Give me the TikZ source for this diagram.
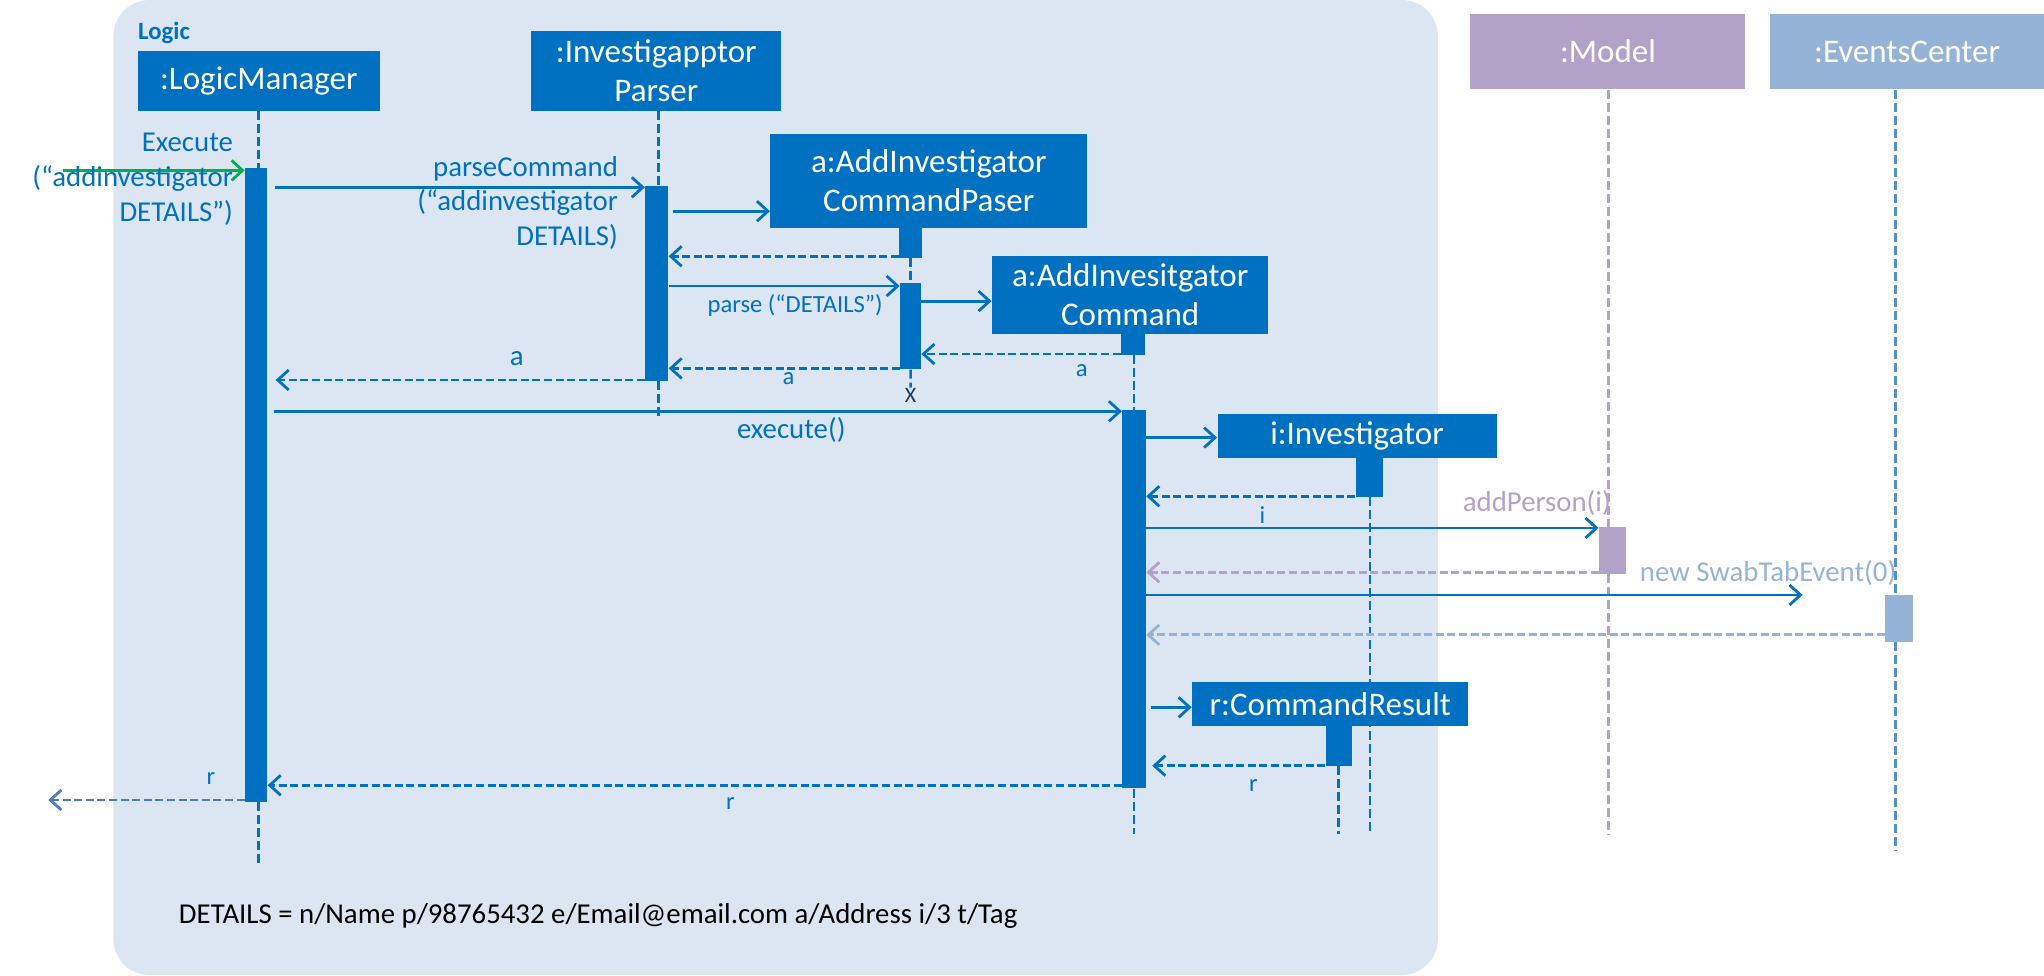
\documentclass[tikz,border=0pt]{standalone}
\usepackage{fontspec}
\setmainfont{Carlito}
\usetikzlibrary{arrows.meta}
\definecolor{mblue}{HTML}{0070C0}
\definecolor{bgblue}{HTML}{DCE6F2}
\definecolor{mpurple}{HTML}{B3A2C7}
\definecolor{lblue}{HTML}{95B3D7}
\definecolor{evline}{HTML}{558ED5}
\definecolor{outblue}{HTML}{4A7EBB}
\definecolor{mgreen}{HTML}{00B050}
\definecolor{navy}{HTML}{1F3864}
\newcommand\un{0.6518pt}
\begin{document}
\begin{tikzpicture}[x=0.6518pt, y=-0.6518pt,
  sz/.style 2 args={minimum width=#1*\un, minimum height=#2*\un},
  obj/.style={fill=mblue, text=white, inner sep=0pt, align=center, font=\fontsize{16.5}{19.6}\selectfont},
  bar/.style={fill=mblue, inner sep=0pt},
  msg/.style={draw=mblue, line width=1.4pt, -{Straight Barb[length=5.5pt,width=10pt]}},
  ret/.style={msg, dash pattern=on 4pt off 1.8pt},
  life/.style={draw=mblue, line width=1.3pt, dash pattern=on 4.5pt off 2pt},
  lbl/.style={text=mblue, inner sep=0pt, font=\fontsize{14.4}{17.3}\selectfont},
  slbl/.style={text=mblue, inner sep=0pt, font=\fontsize{12.3}{14.8}\selectfont}]
\useasboundingbox (0,0) rectangle (1568,748);
% background
\fill[bgblue, rounded corners=18pt] (87,0) rectangle (1103,748);
\node[anchor=west, text=mblue, inner sep=0pt, font=\fontsize{12.4}{14}\selectfont\bfseries] (logic) at (105.7,25.6) {Logic};

% object boxes
\node[obj, sz={185.8}{46}] (lm) at (198.6,62) {:LogicManager};
\node[obj, sz={192}{61.2}] (par) at (503.5,54.4) {:Investigapptor\\Parser};
\node[obj, sz={243}{71.9}] (acp) at (712.5,138.75) {a:AddInvestigator\\CommandPaser};
\node[obj, sz={212}{60}] (cmd) at (867,226) {a:AddInvesitgator\\Command};
\node[obj, sz={214}{33.5}] (inv) at (1041,334.5) {i:Investigator};
\node[obj, sz={212}{33.7}] (cr) at (1020.5,539.9) {r:CommandResult};
\node[obj, fill=mpurple, sz={211}{58}] (model) at (1233.5,39.6) {:Model};
\node[obj, fill=lblue, sz={210}{58}] (ev) at (1463,39.6) {:EventsCenter};

% end coordinates
\coordinate (lmend) at (198.4,663);
\coordinate (parend) at (505,321);
\coordinate (cmdend) at (870,640);
\coordinate (invend) at (1051,640);
\coordinate (crend) at (1027,640);
\coordinate (modend) at (1234,640);
\coordinate (evend) at (1454,652.6);
\coordinate (gstart) at (48,130.7);
\coordinate (swabend) at (1382.8,456.4);
\coordinate (rend) at (37,613.7);

% activation bars (nodes)
\node[bar, sz={17}{486}] (lmact) at (196.5,372) {};
\node[bar, sz={17.6}{149.3}] (paract) at (503.8,217.35) {};
\node[bar, sz={17}{23}] (acpblk) at (698.5,186.2) {};
\node[bar, sz={16}{65.9}] (acpact) at (698.5,250.35) {};
\node[bar, sz={18}{16}] (cmdblk) at (869,264) {};
\node[bar, sz={18}{290.1}] (cmdact) at (870,459.55) {};
\node[bar, sz={21}{29.7}] (invblk) at (1050.5,366.15) {};
\node[bar, sz={20}{30.7}] (crblk) at (1027,572) {};
\node[bar, fill=mpurple, sz={20.8}{35.7}] (modact) at (1237,422.15) {};
\node[bar, fill=lblue, sz={21.3}{35.8}] (evact) at (1456.6,474.3) {};
\node[text=navy, inner sep=0pt, font=\fontsize{11}{12}\selectfont] (xmark) at (698.6,303) {X};

% lifelines
\draw[life] (lm.south -| lmend) -- (lmact.north -| lmend);
\draw[life] (lmact.south -| lmend) -- (lmend);
\draw[life] (parend |- par.south) -- (parend |- paract.north);
\draw[life] (parend |- paract.south) -- (parend);
\draw[life] (acpblk.south) -- (acpact.north);
\draw[life] (acpact.south) -- (xmark.north);
\draw[life] (cmdblk.south -| cmdend) -- (cmdact.north -| cmdend);
\draw[life] (cmdact.south -| cmdend) -- (cmdend);
\draw[life] (invend |- invblk.south) -- (invend);
\draw[life] (crend |- crblk.south) -- (crend);
\draw[life, draw=mpurple] (modend |- model.south) -- (modend |- modact.north);
\draw[life, draw=mpurple] (modend |- modact.south) -- (modend);
\draw[life, draw=evline] (evend |- ev.south) -- (evend |- evact.north);
\draw[life, draw=evline] (evend |- evact.south) -- (evend);

% messages
\draw[msg, draw=mgreen] (gstart) -- (lmact.west |- gstart);
\draw[msg, shorten <=3.5pt] (lmact.east |- 0,143.7) -- (paract.west |- 0,143.7);
\draw[msg, shorten <=2pt] (paract.east |- 0,162) -- (acp.west |- 0,162);
\draw[ret] (acpblk.west |- 0,196.6) -- (paract.east |- 0,196.6);
\draw[msg] (paract.east |- 0,219.4) -- (acpact.west |- 0,219.4);
\draw[msg] (acpact.east |- 0,231) -- (cmd.west |- 0,231);
\draw[ret] (cmdblk.west |- 0,271.6) -- (acpact.east |- 0,271.6);
\draw[ret] (acpact.west |- 0,282.6) -- (paract.east |- 0,282.6);
\draw[ret, shorten >=4pt] (paract.west |- 0,291.5) -- (lmact.east |- 0,291.5);
\draw[msg, shorten <=3pt] (lmact.east |- 0,315.5) -- (cmdact.west |- 0,315.5);
\draw[msg] (cmdact.east |- 0,335.7) -- (inv.west |- 0,335.7);
\draw[ret] (invblk.west |- 0,380.7) -- (cmdact.east |- 0,380.7);
\draw[msg] (cmdact.east |- 0,405) -- (modact.west |- 0,405);
\draw[ret, draw=mpurple] (modact.west |- 0,439) -- (cmdact.east |- 0,439);
\draw[msg] (cmdact.east |- swabend) -- (swabend);
\draw[ret, draw=lblue] (evact.west |- 0,487) -- (cmdact.east |- 0,487);
\draw[msg, shorten <=2.5pt] (cmdact.east |- 0,542.6) -- (cr.west |- 0,542.6);
\draw[ret, shorten >=3pt] (crblk.west |- 0,587.4) -- (cmdact.east |- 0,587.4);
\draw[ret] (cmdact.west |- 0,602.4) -- (lmact.east |- 0,602.4);
\draw[ret, draw=outblue] (lmact.west |- rend) -- (rend);

% labels
\node[lbl, anchor=east, align=right] (lexec) at (179,137.5) {Execute\\(“addinvestigator\\DETAILS”)};
\node[lbl, anchor=east, align=right] (lparse) at (474.3,155.5) {parseCommand\\(“addinvestigator\\DETAILS)};
\node[slbl] (lparsed) at (610,234.5) {parse (“DETAILS”)};
\node[lbl] (la1) at (396.5,275) {a};
\node[slbl] (la2) at (604.8,290.2) {a};
\node[slbl] (la3) at (829.8,284.4) {a};
\node[lbl] (lexe) at (607,330) {execute()};
\node[slbl] (li) at (968.5,395) {i};
\node[lbl, text=mpurple, anchor=east] (ladd) at (1236,386) {addPerson(i)};
\node[lbl, text=lblue, anchor=east] (lswab) at (1455,439.3) {new SwabTabEvent(0)};
\node[slbl] (lr1) at (961.6,602.5) {r};
\node[slbl] (lr2) at (560.4,616.2) {r};
\node[slbl] (lr3) at (161.7,597.6) {r};
\node[lbl, text=black, anchor=west] (ldet) at (137,703) {DETAILS = n/Name p/98765432 e/Email@email.com a/Address i/3 t/Tag};
\end{tikzpicture}
\end{document}
